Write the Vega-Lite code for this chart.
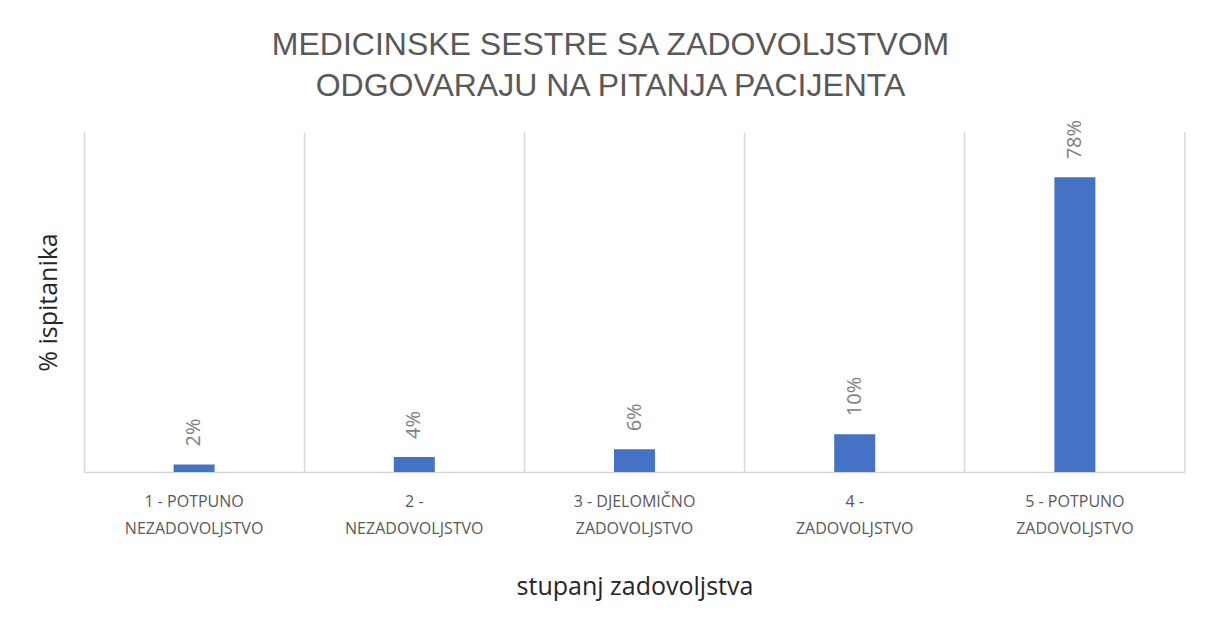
{
  "$schema": "https://vega.github.io/schema/vega-lite/v6.json",
  "width": 1101,
  "height": 340,
  "autosize": {"type": "none"},
  "padding": {"left": 84, "top": 132, "right": 26, "bottom": 146},
  "background": "white",
  "config": {"view": {"stroke": null}},
  "title": {
    "text": ["MEDICINSKE SESTRE SA ZADOVOLJSTVOM", "ODGOVARAJU NA PITANJA PACIJENTA"],
    "font": "Liberation Sans",
    "fontSize": 32,
    "fontWeight": "normal",
    "color": "#595959",
    "lineHeight": 41,
    "anchor": "middle",
    "dx": -24,
    "offset": 17
  },
  "data": {
    "values": [
      {"kat": "1 - POTPUNO|NEZADOVOLJSTVO", "pct": 0.02},
      {"kat": "2 -|NEZADOVOLJSTVO", "pct": 0.04},
      {"kat": "3 - DJELOMIČNO|ZADOVOLJSTVO", "pct": 0.06},
      {"kat": "4 -|ZADOVOLJSTVO", "pct": 0.10},
      {"kat": "5 - POTPUNO|ZADOVOLJSTVO", "pct": 0.78}
    ]
  },
  "encoding": {
    "x": {
      "field": "kat",
      "type": "nominal",
      "sort": ["1 - POTPUNO|NEZADOVOLJSTVO", "2 -|NEZADOVOLJSTVO", "3 - DJELOMIČNO|ZADOVOLJSTVO", "4 -|ZADOVOLJSTVO", "5 - POTPUNO|ZADOVOLJSTVO"],
      "scale": {"paddingInner": 0, "paddingOuter": 0},
      "axis": {
        "title": "stupanj zadovoljstva",
        "titleFont": "Open Sans",
        "titleFontSize": 25,
        "titleFontWeight": "normal",
        "titleColor": "#262626",
        "titlePadding": 38,
        "labelExpr": "split(datum.label, '|')",
        "labelAngle": 0,
        "labelFont": "Open Sans",
        "labelFontSize": 16,
        "labelColor": "#595959",
        "labelLineHeight": 27,
        "labelPadding": 21,
        "labelLimit": 300,
        "ticks": false,
        "domainColor": "#d9d9d9",
        "domainWidth": 1.5,
        "grid": true,
        "gridColor": "#d9d9d9",
        "gridWidth": 1.5,
        "bandPosition": 0
      }
    }
  },
  "layer": [
    {
      "mark": {"type": "rule", "color": "#d9d9d9", "strokeWidth": 1.5},
      "transform": [{"filter": "datum.pct > 0.5"}],
      "encoding": {
        "x": {
          "field": "kat",
          "type": "nominal",
          "sort": ["1 - POTPUNO|NEZADOVOLJSTVO", "2 -|NEZADOVOLJSTVO", "3 - DJELOMIČNO|ZADOVOLJSTVO", "4 -|ZADOVOLJSTVO", "5 - POTPUNO|ZADOVOLJSTVO"],
          "bandPosition": 1
        }
      }
    },
    {
      "mark": {"type": "bar", "color": "#4472C4", "width": 41},
      "encoding": {
        "y": {
          "field": "pct",
          "type": "quantitative",
          "scale": {"domain": [0, 0.9], "nice": false},
          "axis": {
            "title": "% ispitanika",
            "titleFont": "Open Sans",
            "titleFontSize": 25,
            "titleFontWeight": "normal",
            "titleColor": "#262626",
            "titlePadding": 23,
            "labels": false,
            "ticks": false,
            "domain": false,
            "grid": false
          }
        }
      }
    },
    {
      "mark": {
        "type": "text",
        "angle": 270,
        "align": "left",
        "baseline": "middle",
        "dx": 18,
        "font": "Open Sans",
        "fontSize": 20,
        "color": "#7f7f7f"
      },
      "encoding": {
        "y": {"field": "pct", "type": "quantitative"},
        "text": {"field": "pct", "type": "quantitative", "format": ".0%"}
      }
    }
  ]
}
